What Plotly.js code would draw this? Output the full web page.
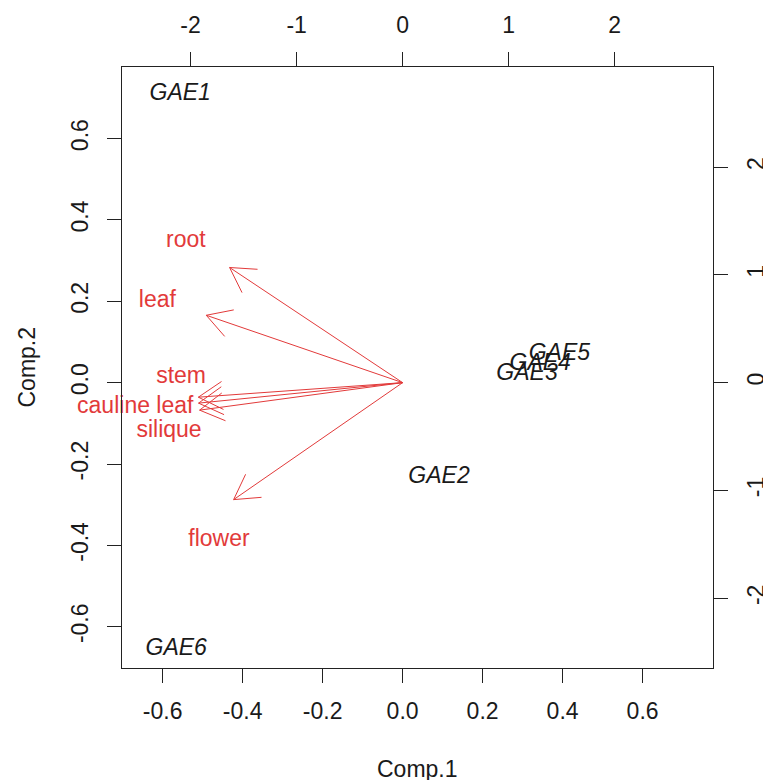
<!DOCTYPE html>
<html>
<head>
<meta charset="utf-8">
<script src="https://cdn.plot.ly/plotly-3.0.1.min.js"></script>
<style>html,body{margin:0;padding:0;background:#fff;}#chart{width:763px;height:780px;}</style>
</head>
<body>
<div id="chart"></div>
<script>
// Observations (scores, bottom/left axes)
const obsNames = ["GAE1", "GAE2", "GAE3", "GAE4", "GAE5", "GAE6"];
const obsComp1 = [-0.556, 0.091, 0.311, 0.344, 0.392, -0.566];
const obsComp2 = [0.709, -0.233, 0.021, 0.046, 0.070, -0.655];

// Variables (loadings, top/right axes): arrow tips
const varNames = ["root", "leaf", "stem", "cauline leaf", "silique", "flower"];
const varTipX = [-1.632, -1.852, -1.927, -1.925, -1.915, -1.594];
const varTipY = [1.068, 0.625, -0.135, -0.19, -0.255, -1.085];
// Variable label positions (top/right axes)
const varLabX = [-2.045, -2.313, -2.09, -2.522, -2.203, -1.732];
const varLabY = [1.311, 0.753, 0.052, -0.227, -0.450, -1.465];

// Tick labels
const scoreTickVals = [-0.6, -0.4, -0.2, 0.0, 0.2, 0.4, 0.6];
const scoreTickText = ["-0.6", "-0.4", "-0.2", "0.0", "0.2", "0.4", "0.6"];
const loadTickVals = [-2, -1, 0, 1, 2];
const loadTickText = ["-2", "-1", "0", "1", "2"];

// Layout constants
const W = 763, H = 780;
const M = {l: 122, r: 50, t: 67, b: 112, pad: 0};
const scoreRange = [-0.7015, 0.776];
const loadRange = [-2.647, 2.928];
const RED = "#e23a3a";
const FONT = "Liberation Sans, Arial, Helvetica, sans-serif";
const FS = 23;

const plotW = W - M.l - M.r, plotH = H - M.t - M.b;
const pxX2 = plotW / (loadRange[1] - loadRange[0]);
const pxY2 = plotH / (loadRange[1] - loadRange[0]);

// arrow shafts & heads
const shaftX = [], shaftY = [];
const headX = [], headY = [];
const headLen = 28, headAng = 30 * Math.PI / 180;
for (let i = 0; i < varTipX.length; i++) {
  const tx = varTipX[i], ty = varTipY[i];
  shaftX.push(0, tx, null); shaftY.push(0, ty, null);
  let dx = -tx * pxX2, dy = -ty * pxY2;
  const n = Math.hypot(dx, dy); dx /= n; dy /= n;
  for (const s of [1, -1]) {
    const a = s * headAng;
    const rx = dx * Math.cos(a) - dy * Math.sin(a);
    const ry = dx * Math.sin(a) + dy * Math.cos(a);
    headX.push(tx, tx + rx * headLen / pxX2, null);
    headY.push(ty, ty + ry * headLen / pxY2, null);
  }
}

const traces = [
  {
    type: "scatter", mode: "text", xaxis: "x", yaxis: "y",
    x: obsComp1, y: obsComp2,
    text: obsNames.map(s => "<i>" + s + "</i>"),
    textposition: "middle center", cliponaxis: false,
    textfont: {family: FONT, size: FS, color: "#1a1a1a"},
    hoverinfo: "skip", showlegend: false
  },
  {
    type: "scatter", mode: "lines", xaxis: "x2", yaxis: "y2",
    x: shaftX, y: shaftY,
    line: {color: RED, width: 1}, hoverinfo: "skip", showlegend: false
  },
  {
    type: "scatter", mode: "lines", xaxis: "x2", yaxis: "y2",
    x: headX, y: headY,
    line: {color: RED, width: 1}, hoverinfo: "skip", showlegend: false
  },
  {
    type: "scatter", mode: "text", xaxis: "x2", yaxis: "y2",
    x: varLabX, y: varLabY, text: varNames,
    textposition: "middle center", cliponaxis: false,
    textfont: {family: FONT, size: FS, color: RED},
    hoverinfo: "skip", showlegend: false
  }
];

const axisCommon = {
  showgrid: false, zeroline: false, showline: true,
  linecolor: "#222", linewidth: 1,
  ticks: "outside", ticklen: 14, tickwidth: 1, tickcolor: "#222",
  tickfont: {family: FONT, size: FS, color: "#1a1a1a"},
  tickmode: "array", fixedrange: true, automargin: false
};

const layout = {
  width: W, height: H, margin: M,
  paper_bgcolor: "#fff", plot_bgcolor: "#fff",
  font: {family: FONT, size: FS, color: "#1a1a1a"},
  showlegend: false,
  xaxis: Object.assign({}, axisCommon, {
    range: scoreRange, side: "bottom", anchor: "y",
    tickvals: scoreTickVals, ticktext: scoreTickText, ticklabelstandoff: 8
  }),
  yaxis: Object.assign({}, axisCommon, {
    range: scoreRange, side: "left", anchor: "x",
    tickvals: scoreTickVals, ticktext: scoreTickText, tickangle: -90, ticklabelstandoff: 10
  }),
  xaxis2: Object.assign({}, axisCommon, {
    range: loadRange, side: "top", overlaying: "x", anchor: "y",
    tickvals: loadTickVals, ticktext: loadTickText, ticklabelstandoff: 10
  }),
  yaxis2: Object.assign({}, axisCommon, {
    range: loadRange, side: "right", overlaying: "y", anchor: "x",
    tickvals: loadTickVals, ticktext: loadTickText, tickangle: -90, ticklabelstandoff: 8
  }),
  annotations: [
    {text: "Comp.1", xref: "paper", yref: "paper", x: 0.5, y: 0, yshift: -101,
     xanchor: "center", yanchor: "middle", showarrow: false,
     font: {family: FONT, size: FS, color: "#1a1a1a"}},
    {text: "Comp.2", xref: "paper", yref: "paper", x: 0, y: 0.5, xshift: -96,
     xanchor: "center", yanchor: "middle", textangle: -90, showarrow: false,
     font: {family: FONT, size: FS, color: "#1a1a1a"}}
  ]
};

Plotly.newPlot("chart", traces, layout, {displayModeBar: false, staticPlot: true});
</script>
</body>
</html>
